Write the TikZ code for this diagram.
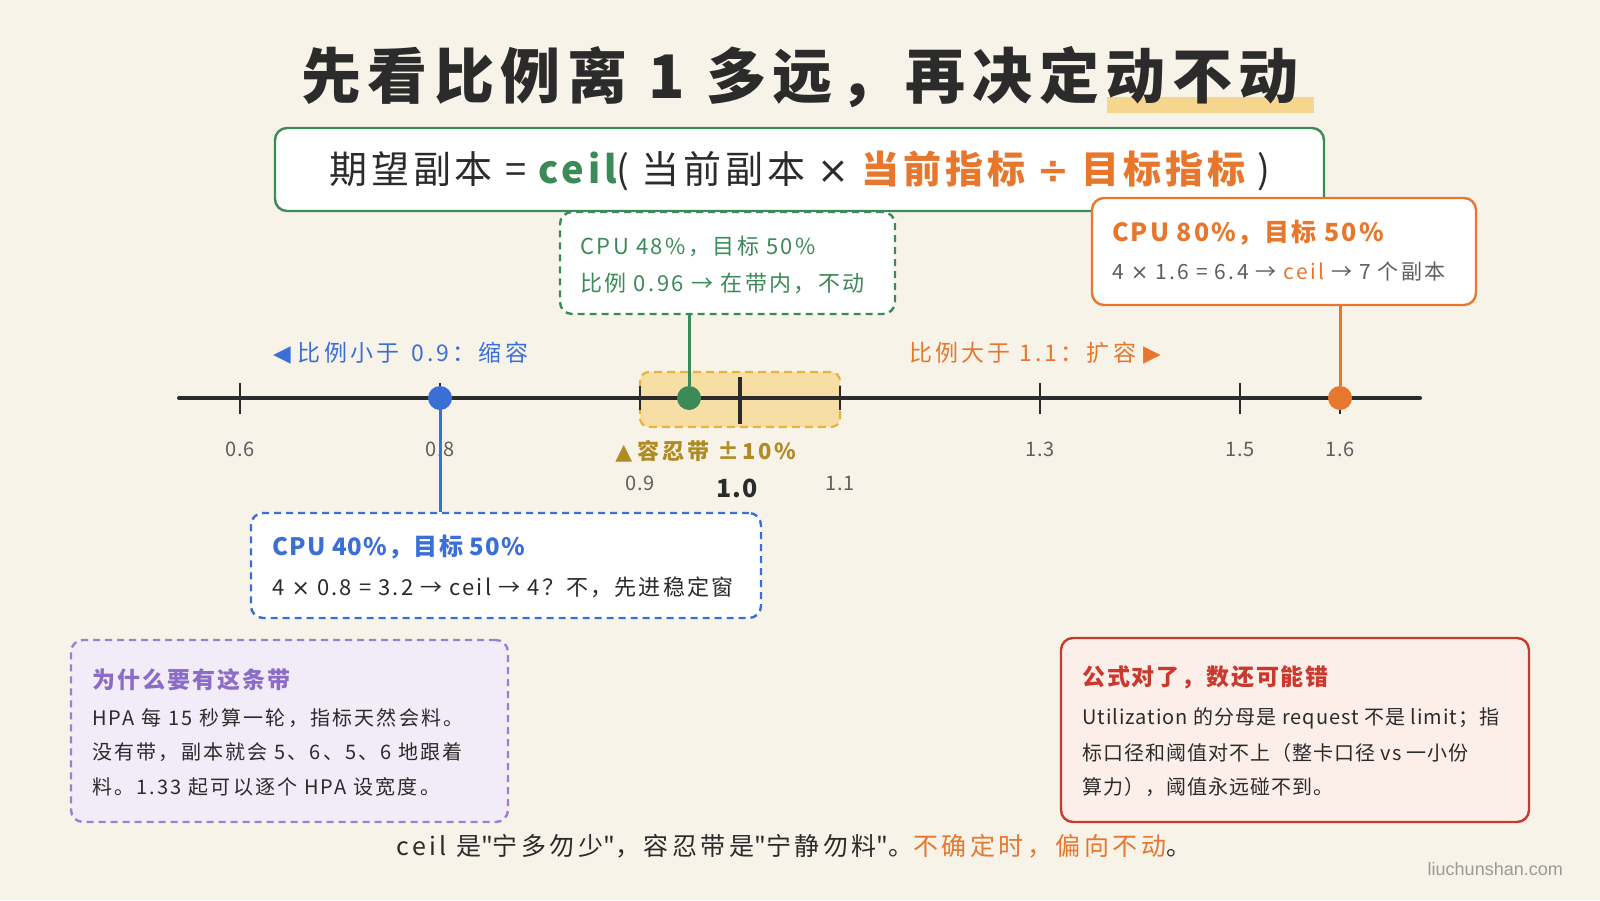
\documentclass[tikz,border=0pt]{standalone}
\usepackage{fontspec}
\setmainfont{Noto Sans CJK SC}
\newfontfamily\symfont{DejaVu Sans}
\newfontfamily\qfont{Noto Sans CJK SC}
\newfontfamily\wmfont{Liberation Sans}
\newcommand\lsp[1]{\addfontfeature{LetterSpace=#1}}
\newcommand\qq{{\qfont"}}
\newcommand\tms{{\symfont ×}}
\usetikzlibrary{calc}
\definecolor{bg}{HTML}{F8F3E9}
\definecolor{ink}{HTML}{2B2B2B}
\definecolor{gray1}{HTML}{5E5E5E}
\definecolor{grn}{HTML}{3B8A57}
\definecolor{org}{HTML}{E8772E}
\definecolor{blu}{HTML}{3A6FD6}
\definecolor{gold}{HTML}{B08A22}
\definecolor{bandfill}{HTML}{F7DEA4}
\definecolor{bandline}{HTML}{E3B53F}
\definecolor{hl}{HTML}{F6D58E}
\definecolor{pur}{HTML}{9B7FD0}
\definecolor{purfill}{HTML}{F2ECF8}
\definecolor{purtxt}{HTML}{8B6CC6}
\definecolor{red1}{HTML}{C9392E}
\definecolor{redfill}{HTML}{FCEFEA}
\definecolor{wm}{HTML}{9A9A9A}
\tikzset{
  card/.style={rounded corners=12, line width=2.4, fill=white, inner sep=0},
  dcard/.style={card, dash pattern=on 7pt off 5pt},
  txt/.style={inner sep=0, anchor=west, text=ink},
  tick/.style={line width=2, draw=ink},
  tlabel/.style={inner sep=0, text=gray1, font=\fontsize{20}{22}\selectfont\lsp{4}},
  dot/.style={circle, inner sep=0, minimum size=24},
  stem/.style={line width=3}
}
\begin{document}
\begin{tikzpicture}[x=1pt,y=-1pt]
\fill[bg] (0,0) rectangle (1600,900);
\useasboundingbox (0,0) rectangle (1600,900);

% title
\fill[hl] (1107,97) rectangle (1314,113);
\node[inner sep=0, text=ink, font=\fontsize{60}{64}\selectfont\bfseries\lsp{11}] (title) at (800,77)
  {先看比例离\hspace{0.35em}1\hspace{0.35em}多远，再决定动不动};

% formula box
\node[card, draw=grn, minimum width=1049, minimum height=83] (fbox) at (799.5,169.5) {};
\node[inner sep=0, text=ink, font=\fontsize{38}{42}\selectfont\lsp{10}] (ftext) at (800,171)
  {期望副本 = \textcolor{grn}{\bfseries ceil}( 当前副本 \tms{} \textcolor{org}{\bfseries 当前指标 {\symfont ÷} 目标指标} )};

% green box
\node[dcard, draw=grn, minimum width=335, minimum height=102] (gbox) at (727.5,263) {};
\node[txt, text=grn, font=\fontsize{22}{24}\selectfont\lsp{11}] (g1) at (580,246) {CPU 48\%，目标 50\%};
\node[txt, text=grn, font=\fontsize{22}{24}\selectfont\lsp{11}] (g2) at (580,283) {比例 0.96 → 在带内，不动};

% orange box
\node[card, draw=org, minimum width=384, minimum height=107] (obox) at (1284,251.5) {};
\node[txt, text=org, font=\fontsize{25}{28}\selectfont\bfseries\lsp{8}] (o1) at (1112,233) {CPU 80\%，目标 50\%};
\node[txt, text=gray1, font=\fontsize{21}{24}\selectfont\lsp{11}] (o2) at (1112,272) {4 \tms{} 1.6 = 6.4 → \textcolor{org}{ceil} → 7 个副本};

% side labels
\node[txt, text=blu, font=\fontsize{23}{26}\selectfont\lsp{14}] (lblL) at (273,353)
  {{\symfont ◀}\hspace{0.3em}比例小于 \textit{0.9}：缩容};
\node[inner sep=0, anchor=east, text=org, font=\fontsize{23}{26}\selectfont\lsp{14}] (lblR) at (1161,353)
  {比例大于 1.1：扩容\hspace{0.3em}{\symfont ▶}};

% tolerance band
\node[draw=bandline, fill=bandfill, line width=2.2, dash pattern=on 8pt off 5pt,
      rounded corners=9, minimum width=200, minimum height=55, inner sep=0] (band) at (740,399.5) {};

% axis
\coordinate (axL) at (179,398);
\coordinate (axR) at (1420,398);
\draw[line width=4, draw=ink, line cap=round] (axL) -- (axR);
\foreach \x/\n in {240/t06,440/t08,1040/t13,1240/t15,1340/t16}{
  \draw[tick] (\x,383) coordinate (\n) -- (\x,414);
}
\draw[tick] (640,386) -- (640,410);
\draw[tick] (840,386) -- (840,410);
\draw[line width=3.2, draw=ink] (740,377) -- (740,424);

% tick labels
\node[tlabel] (l06) at (240,449) {0.6};
\node[tlabel] (l08) at (440,449) {0.8};
\node[tlabel] (l13) at (1040,449) {1.3};
\node[tlabel] (l15) at (1240,449) {1.5};
\node[tlabel] (l16) at (1340,449) {1.6};
\node[tlabel] (l09) at (640,483) {0.9};
\node[tlabel] (l11) at (840,483) {1.1};
\node[inner sep=0, text=ink, font=\fontsize{25}{28}\selectfont\bfseries\lsp{4}] (l10) at (737,488) {1.0};
\node[inner sep=0, text=gold, font=\fontsize{22}{24}\selectfont\bfseries\lsp{13}] (bandlbl) at (706,451)
  {{\symfont ▲}\hspace{0.25em}容忍带 ±10\%};

% blue box
\node[dcard, draw=blu, minimum width=510, minimum height=105] (bbox) at (506,565.5) {};
\node[txt, text=blu, font=\fontsize{24}{26}\selectfont\bfseries\lsp{5}] (b1) at (272,547) {CPU 40\%，目标 50\%};
\node[txt, font=\fontsize{22}{24}\selectfont\lsp{10}] (b2) at (272,587) {4 \tms{} 0.8 = 3.2 → ceil → 4？不，先进稳定窗};

% dots and stems
\node[dot, fill=grn] (gdot) at (689,398) {};
\node[dot, fill=blu] (bdot) at (440,398) {};
\node[dot, fill=org] (odot) at (1340,398) {};
\draw[stem, draw=grn] (gdot) -- (gdot |- gbox.south);
\draw[stem, draw=blu] (bdot) -- (bdot |- bbox.north);
\draw[stem, draw=org] (odot) -- (odot |- obox.south);

% purple box
\node[card, draw=pur, fill=purfill, dash pattern=on 7pt off 5pt, minimum width=437, minimum height=182] (pbox) at (289.5,731) {};
\node[txt, text=purtxt, font=\fontsize{23}{26}\selectfont\bfseries\lsp{9}] (p0) at (92,680) {为什么要有这条带};
\node[txt, font=\fontsize{20}{22}\selectfont\lsp{11}] (p1) at (92,718) {HPA 每 15 秒算一轮，指标天然会料。};
\node[txt, font=\fontsize{20}{22}\selectfont\lsp{11}] (p2) at (92,752) {没有带，副本就会 5、6、5、6 地跟着};
\node[txt, font=\fontsize{20}{22}\selectfont\lsp{11}] (p3) at (92,787) {料。1.33 起可以逐个 HPA 设宽度。};

% red box
\node[card, draw=red1, fill=redfill, minimum width=468, minimum height=184] (rbox) at (1295,730) {};
\node[txt, text=red1, font=\fontsize{23}{26}\selectfont\bfseries\lsp{8}] (r0) at (1082,677) {公式对了，数还可能错};
\node[txt, font=\fontsize{20}{22}\selectfont\lsp{5}] (r1) at (1082,718) {Utilization 的分母是 request 不是 limit；指};
\node[txt, font=\fontsize{20}{22}\selectfont\lsp{5}] (r2) at (1082,753) {标口径和阈值对不上（整卡口径 vs 一小份};
\node[txt, font=\fontsize{20}{22}\selectfont\lsp{5}] (r3) at (1082,787) {算力），阈值永远碰不到。};

% bottom
\node[inner sep=0, text=ink, font=\fontsize{25}{27}\selectfont\lsp{14}] (bottom) at (794,846)
  {ceil 是\qq 宁多勿少\qq，容忍带是\qq 宁静勿料\qq。\textcolor{org}{不确定时，偏向不动}。};
\node[inner sep=0, anchor=east, text=wm, font=\wmfont\fontsize{18}{20}\selectfont] (wmk) at (1563,869) {liuchunshan.com};
\end{tikzpicture}
\end{document}
